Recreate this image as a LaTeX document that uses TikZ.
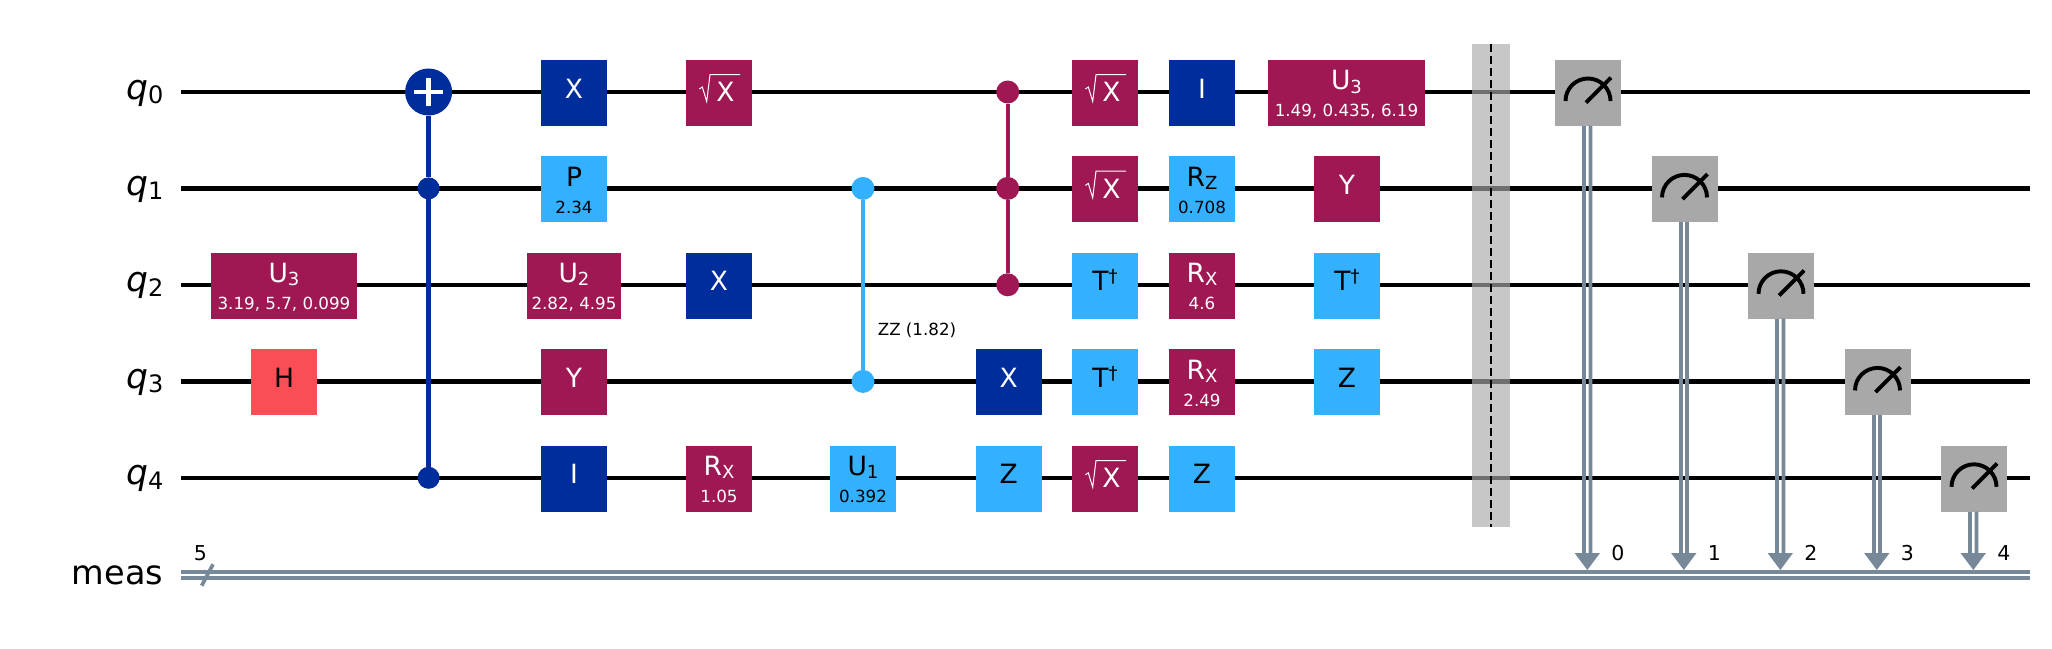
\documentclass[tikz,border=0pt]{standalone}
\usepackage{fontspec}
\setmainfont{DejaVu Sans}
\usetikzlibrary{calc}
\definecolor{dkblue}{HTML}{002D9C}
\definecolor{purp}{HTML}{9F1853}
\definecolor{ltblue}{HTML}{33B1FF}
\definecolor{hred}{HTML}{FA4D56}
\definecolor{meter}{HTML}{A8A8A8}
\definecolor{cbit}{HTML}{778899}
\definecolor{barr}{HTML}{ABABAB}
\tikzset{
  gatebox/.style={minimum height=66pt,inner sep=0pt,outer sep=0pt,draw=none,rectangle},
  glabel/.style={anchor=base,inner sep=0pt,outer sep=0pt,font=\fontsize{26.5}{26.5}\selectfont},
  gparam/.style={anchor=base,inner sep=0pt,outer sep=0pt,font=\fontsize{16.7}{16.7}\selectfont},
  wirelabel/.style={anchor=base east,inner sep=0pt,outer sep=0pt,font=\fontsize{33.5}{33.5}\selectfont},
  idxlabel/.style={anchor=base,inner sep=0pt,outer sep=0pt,font=\fontsize{20.5}{20.5}\selectfont},
  qwire/.style={draw=black,line width=4.3pt},
  bus/.style={draw=cbit,line width=3.7pt},
  cline/.style={line width=4.3pt},
  dot/.style={circle,inner sep=0pt,minimum size=22pt,outer sep=0pt},
  measline/.style={draw=cbit,line width=3.7pt},
  needle/.style={draw=black,line width=3.9pt}
}
\newcommand{\gsub}[1]{\raisebox{-3.4pt}{\fontsize{18}{18}\selectfont #1}}
\newcommand{\qit}{{\fontsize{34.5}{34.5}\selectfont\textit{q}}}
\newcommand{\qsb}[1]{\raisebox{-4.5pt}{\fontsize{24}{24}\selectfont #1}}
\newcommand{\dgr}{\raisebox{8.5pt}{\fontsize{18}{18}\selectfont †}}
% name, x, y, width, fill, text colour, label
\newcommand{\gateone}[7]{%
  \node[gatebox,minimum width=#4pt,fill=#5] (#1) at (#2,#3) {};
  \node[glabel,text=#6] (#1t) at ([yshift=-5.4pt]#1.center) {#7};}
% name, x, y, width, fill, text colour, label, parameter
\newcommand{\gatetwo}[8]{%
  \node[gatebox,minimum width=#4pt,fill=#5] (#1) at (#2,#3) {};
  \node[glabel,text=#6] (#1t) at ([yshift=3pt]#1.center) {#7};
  \node[gparam,text=#6] (#1p) at ([yshift=-24.2pt]#1.center) {#8};}
% name, x, y
\newcommand{\sxgate}[3]{%
  \node[gatebox,minimum width=66pt,fill=purp] (#1) at (#2,#3) {};
  \node[glabel,text=white] (#1t) at ([xshift=6.5pt,yshift=-9pt]#1.center) {X};
  \draw[white,line width=1pt,line join=miter]
    ($(#1.center)+(-19.7,-3.7)$) -- ++(3,-2) -- ++(4.4,14.4) -- ++(3.3,-26.7) -- ++(30,0);}
% name, x, y, arrow-foot coordinate, index text
\newcommand{\measure}[5]{%
  \node[gatebox,minimum width=66pt,fill=meter] (#1) at (#2,#3) {};
  \coordinate (#4) at (#2-0.7,570);
  \draw[measline] ([xshift=-3.8pt]#1.south) -- ($(#4)+(-3.1,-10)$);
  \draw[measline] ([xshift=2.4pt]#1.south) -- ($(#4)+(3.1,-10)$);
  \fill[cbit] (#4) -- ($(#4)+(-12.7,-17)$) -- ($(#4)+(12.7,-17)$) -- cycle;
  \draw[needle] ($(#1.center)+(-22.5,8.3)$) arc[start angle=180,end angle=0,radius=22.5pt];
  \draw[needle] ($(#1.center)+(-2,10)$) -- ($(#1.center)+(23,-15)$);
  \node[idxlabel] (#1i) at ($(#4)+(30.6,-9.5)$) {#5};}
\begin{document}
\begin{tikzpicture}[x=1pt,y=-1pt]
\useasboundingbox (0,0) rectangle (2052,648);
\fill[white] (0,0) rectangle (2052,648);
% wire ends
\foreach \n/\y in {0/92,1/188.4,2/284.8,3/381.4,4/477.8}{
  \coordinate (w\n s) at (181,\y);
  \coordinate (w\n e) at (2030,\y);
  \draw[qwire] (w\n s) -- (w\n e);
}
\coordinate (busL) at (181,574.9);
\coordinate (busR) at (2030,574.9);
\draw[bus] ([yshift=3.15pt]busL) -- ([yshift=3.15pt]busR);
\draw[bus] ([yshift=-3.15pt]busL) -- ([yshift=-3.15pt]busR);
\draw[bus] ($(busL)+(20.7,10.8)$) -- ($(busL)+(32,-10.6)$);
% wire labels
\node[wirelabel] (l0) at (163.5,99) {\qit\qsb{0}};
\node[wirelabel] (l1) at (163.5,195.4) {\qit\qsb{1}};
\node[wirelabel] (l2) at (163.5,291.8) {\qit\qsb{2}};
\node[wirelabel] (l3) at (163.5,388.4) {\qit\qsb{3}};
\node[wirelabel] (l4) at (163.5,484.8) {\qit\qsb{4}};
\node[wirelabel] (lm) at (163,584) {meas};
\node[idxlabel] (l5) at (200.5,560.7) {5};
% column 1
\gatetwo{uc}{284}{285.5}{146}{purp}{white}{U\gsub{3}}{3.19, 5.7, 0.099}
\gateone{h}{284}{382.1}{66}{hred}{black}{H}
% CX
\node[dot,minimum size=47pt,fill=dkblue] (cxt) at (428.6,92) {};
\node[dot,fill=dkblue] (cxa) at (428.6,188.4) {};
\node[dot,fill=dkblue] (cxb) at (428.6,477.8) {};
\draw[dkblue,cline] (cxt) -- (cxa);
\draw[dkblue,cline] (cxa) -- (cxb);
\draw[white,line width=4.6pt] ($(cxt.center)+(-14.5,0)$) -- ($(cxt.center)+(14.5,0)$);
\draw[white,line width=4.6pt] ($(cxt.center)+(0,-14)$) -- ($(cxt.center)+(0,14)$);
% column 3
\gateone{x3}{574}{92.7}{66}{dkblue}{white}{X}
\gatetwo{p3}{574}{189.1}{66}{ltblue}{black}{P}{2.34}
\gatetwo{u3}{574}{285.5}{94}{purp}{white}{U\gsub{2}}{2.82, 4.95}
\gateone{y3}{574}{382.1}{66}{purp}{white}{Y}
\gateone{i3}{574}{478.5}{66}{dkblue}{white}{I}
% column 4
\sxgate{s4}{719}{92.7}
\gateone{x4}{719}{285.5}{66}{dkblue}{white}{X}
\gatetwo{r4}{719}{478.5}{66}{purp}{white}{R\gsub{X}}{1.05}
% ZZ
\node[dot,minimum size=23pt,fill=ltblue] (zza) at (863,188.4) {};
\node[dot,minimum size=23pt,fill=ltblue] (zzb) at (863,381.4) {};
\draw[ltblue,cline] (zza) -- (zzb);
\node[gparam] (zzt) at (917,335.5) {ZZ (1.82)};
\gatetwo{u5}{863}{478.5}{66}{ltblue}{black}{U\gsub{1}}{0.392}
% CCZ
\node[dot,minimum size=23pt,fill=purp] (cca) at (1007.7,92) {};
\node[dot,minimum size=23pt,fill=purp] (ccb) at (1007.7,188.4) {};
\node[dot,minimum size=23pt,fill=purp] (ccc) at (1007.7,284.8) {};
\draw[purp,cline] (cca) -- (ccb);
\draw[purp,cline] (ccb) -- (ccc);
\gateone{x6}{1008.6}{382.1}{66}{dkblue}{white}{X}
\gateone{z6}{1008.6}{478.5}{66}{ltblue}{black}{Z}
% column 7
\sxgate{s7a}{1105}{92.7}
\sxgate{s7b}{1105}{189.1}
\gateone{t7a}{1105}{285.5}{66}{ltblue}{black}{T\dgr}
\gateone{t7b}{1105}{382.1}{66}{ltblue}{black}{T\dgr}
\sxgate{s7c}{1105}{478.5}
% column 8
\gateone{i8}{1202}{92.7}{66}{dkblue}{white}{I}
\gatetwo{r8a}{1202}{189.1}{66}{ltblue}{black}{R\gsub{Z}}{0.708}
\gatetwo{r8b}{1202}{285.5}{66}{purp}{white}{R\gsub{X}}{4.6}
\gatetwo{r8c}{1202}{382.1}{66}{purp}{white}{R\gsub{X}}{2.49}
\gateone{z8}{1202}{478.5}{66}{ltblue}{black}{Z}
% column 9
\gatetwo{u9}{1346.5}{92.7}{157}{purp}{white}{U\gsub{3}}{1.49, 0.435, 6.19}
\gateone{y9}{1347}{189.1}{66}{purp}{white}{Y}
\gateone{t9}{1347}{285.5}{66}{ltblue}{black}{T\dgr}
\gateone{z9}{1347}{382.1}{66}{ltblue}{black}{Z}
% barrier
\fill[barr,fill opacity=.655] (1472,44) rectangle (1510,527);
\coordinate (bt) at (1491,44);
\coordinate (bb) at (1491,527);
\draw[black,line width=2.6pt,dash pattern=on 8.4pt off 3.6pt] (bt) -- (bb);
% measurements
\measure{m0}{1588}{92.7}{a0}{0}
\measure{m1}{1684.5}{189.1}{a1}{1}
\measure{m2}{1781}{285.5}{a2}{2}
\measure{m3}{1877.5}{382.1}{a3}{3}
\measure{m4}{1974}{478.5}{a4}{4}
\end{tikzpicture}
\end{document}
